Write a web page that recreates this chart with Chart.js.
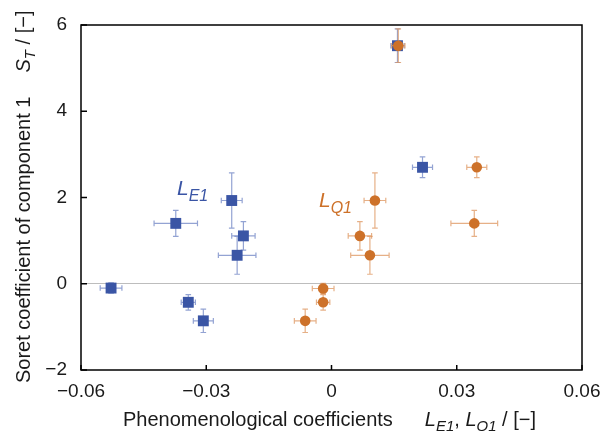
<!DOCTYPE html>
<html>
<head>
<meta charset="utf-8">
<script src="https://cdn.jsdelivr.net/npm/chart.js@4"></script>
<style>
  html, body { margin: 0; padding: 0; background: #fff; }
  #wrap { width: 605px; height: 431px; }
</style>
</head>
<body>
<div id="wrap"><canvas id="chart" width="605" height="431"></canvas></div>
<script>
// L_E1 (blue squares)
const leX    = [-0.0528, -0.0373, -0.0239, -0.0211, -0.0226, -0.0343, -0.0307, 0.0158, 0.0218];
const leY    = [-0.10, 1.40, 1.93, 1.11, 0.66, -0.43, -0.86, 5.52, 2.70];
const leXErr = [0.0026, 0.0052, 0.0025, 0.0028, 0.0045, 0.0017, 0.0024, 0.0016, 0.0024];
const leYErr = [0.12, 0.30, 0.64, 0.33, 0.44, 0.18, 0.27, 0.39, 0.24];

// L_Q1 (orange circles)
const lqX    = [0.0160, 0.0348, 0.0342, 0.0104, 0.0068, 0.0092, -0.0020, -0.0020, -0.0063];
const lqY    = [5.52, 2.70, 1.40, 1.93, 1.11, 0.66, -0.11, -0.43, -0.86];
const lqXErr = [0.0016, 0.0024, 0.0056, 0.0026, 0.0028, 0.0046, 0.0026, 0.0016, 0.0026];
const lqYErr = [0.39, 0.24, 0.30, 0.64, 0.33, 0.44, 0.12, 0.18, 0.27];

const xTicks = [-0.06, -0.03, 0, 0.03, 0.06];
const yTicks = [-2, 0, 2, 4, 6];

const FONT = "'Liberation Sans', Arial, sans-serif";
const BLUE = '#3a55a5';
const ORANGE = '#cd7129';

function pts(xs, ys, xe, ye) {
    return xs.map((x, i) => ({ x: x, y: ys[i], xErr: xe[i], yErr: ye[i] }));
}

function fmt(v) {
    return v === 0 ? '0' : String(v).replace('-', '\u2212');
}

// error bars, drawn just before each dataset's markers
const errorBars = {
    id: 'errorBars',
    beforeDatasetDraw(chart, args) {
        const ds = chart.data.datasets[args.index];
        const xs = chart.scales.x, ys = chart.scales.y;
        const ctx = chart.ctx;
        const cap = 2.8;
        ctx.save();
        ctx.strokeStyle = ds.errColor;
        ctx.lineWidth = 1.2;
        ds.data.forEach(p => {
            const cx = xs.getPixelForValue(p.x), cy = ys.getPixelForValue(p.y);
            const x0 = xs.getPixelForValue(p.x - p.xErr), x1 = xs.getPixelForValue(p.x + p.xErr);
            const y0 = ys.getPixelForValue(p.y - p.yErr), y1 = ys.getPixelForValue(p.y + p.yErr);
            ctx.beginPath();
            ctx.moveTo(x0, cy); ctx.lineTo(x1, cy);
            ctx.moveTo(x0, cy - cap); ctx.lineTo(x0, cy + cap);
            ctx.moveTo(x1, cy - cap); ctx.lineTo(x1, cy + cap);
            ctx.moveTo(cx, y0); ctx.lineTo(cx, y1);
            ctx.moveTo(cx - cap, y0); ctx.lineTo(cx + cap, y0);
            ctx.moveTo(cx - cap, y1); ctx.lineTo(cx + cap, y1);
            ctx.stroke();
        });
        ctx.restore();
    }
};

// draw a row of text pieces (italic / subscript / gap)
function drawRuns(ctx, runs, x, y) {
    runs.forEach(r => {
        if (r.gap) { x += r.gap; return; }
        ctx.font = (r.italic ? 'italic ' : '') + r.size + 'px ' + FONT;
        ctx.fillText(r.text, x, y + (r.sub ? r.size * 0.35 : 0));
        x += ctx.measureText(r.text).width;
    });
}

// frame, inward ticks, axis titles, series labels
const decorations = {
    id: 'decorations',
    afterDraw(chart) {
        const ctx = chart.ctx;
        const a = chart.chartArea;
        const xs = chart.scales.x, ys = chart.scales.y;
        ctx.save();
        ctx.strokeStyle = '#000';
        ctx.lineWidth = 1.5;
        ctx.strokeRect(a.left, a.top, a.right - a.left, a.bottom - a.top);
        ctx.beginPath();
        xTicks.forEach(v => {
            const px = xs.getPixelForValue(v);
            ctx.moveTo(px, a.bottom); ctx.lineTo(px, a.bottom - 5);
        });
        yTicks.forEach(v => {
            const py = ys.getPixelForValue(v);
            ctx.moveTo(a.left, py); ctx.lineTo(a.left + 6, py);
        });
        ctx.stroke();

        ctx.fillStyle = '#1a1a1a';
        ctx.textBaseline = 'alphabetic';
        ctx.textAlign = 'left';
        drawRuns(ctx, [
            { text: 'Phenomenological coefficients', size: 20 },
            { gap: 32 },
            { text: 'L', size: 20, italic: true },
            { text: 'E1', size: 15, italic: true, sub: true },
            { text: ', ', size: 20 },
            { text: 'L', size: 20, italic: true },
            { text: 'Q1', size: 15, italic: true, sub: true },
            { text: ' / [\u2212]', size: 20 }
        ], 123, 426);

        ctx.save();
        ctx.translate(30, 383);
        ctx.rotate(-Math.PI / 2);
        drawRuns(ctx, [
            { text: 'Soret coefficient of component 1', size: 20 },
            { gap: 24 },
            { text: 'S', size: 20, italic: true },
            { text: 'T', size: 15, italic: true, sub: true },
            { text: ' / [\u2212]', size: 20 }
        ], 0, 0);
        ctx.restore();

        ctx.fillStyle = BLUE;
        drawRuns(ctx, [
            { text: 'L', size: 21, italic: true },
            { text: 'E1', size: 16, italic: true, sub: true }
        ], 177, 195);
        ctx.fillStyle = ORANGE;
        drawRuns(ctx, [
            { text: 'L', size: 21, italic: true },
            { text: 'Q1', size: 16, italic: true, sub: true }
        ], 319, 207);
        ctx.restore();
    }
};

new Chart(document.getElementById('chart'), {
    type: 'scatter',
    data: {
        datasets: [
            {
                label: 'L_Q1',
                data: pts(lqX, lqY, lqXErr, lqYErr),
                pointStyle: 'circle',
                pointRadius: 5.3,
                backgroundColor: ORANGE,
                borderColor: ORANGE,
                borderWidth: 0,
                errColor: 'rgba(222, 150, 95, 0.75)',
                order: 0
            },
            {
                label: 'L_E1',
                data: pts(leX, leY, leXErr, leYErr),
                pointStyle: 'rect',
                pointRadius: 7.7,
                backgroundColor: BLUE,
                borderColor: BLUE,
                borderWidth: 0,
                errColor: 'rgba(120, 140, 200, 0.8)',
                order: 1
            }
        ]
    },
    options: {
        responsive: false,
        animation: false,
        events: [],
        layout: { padding: { top: 25, right: 23, left: 0, bottom: 0 } },
        plugins: {
            legend: { display: false },
            tooltip: { enabled: false }
        },
        scales: {
            x: {
                type: 'linear',
                min: -0.06,
                max: 0.06,
                afterBuildTicks: s => { s.ticks = xTicks.map(v => ({ value: v })); },
                afterFit: s => { s.height = 61; s.paddingLeft = 0; s.paddingRight = 0; },
                grid: { display: false, drawTicks: false },
                border: { display: false },
                ticks: {
                    padding: 10,
                    color: '#1a1a1a',
                    font: { family: FONT, size: 19 },
                    maxRotation: 0,
                    callback: v => fmt(v)
                }
            },
            y: {
                type: 'linear',
                min: -2,
                max: 6,
                afterBuildTicks: s => { s.ticks = yTicks.map(v => ({ value: v })); },
                afterFit: s => { s.width = 81; s.paddingTop = 0; s.paddingBottom = 0; },
                grid: {
                    drawTicks: false,
                    color: c => (c.tick && c.tick.value === 0) ? '#bdbdbd' : 'rgba(0,0,0,0)',
                    lineWidth: 1
                },
                border: { display: false },
                ticks: {
                    padding: 14,
                    color: '#1a1a1a',
                    font: { family: FONT, size: 19 },
                    callback: v => fmt(v)
                }
            }
        }
    },
    plugins: [errorBars, decorations]
});
</script>
</body>
</html>
